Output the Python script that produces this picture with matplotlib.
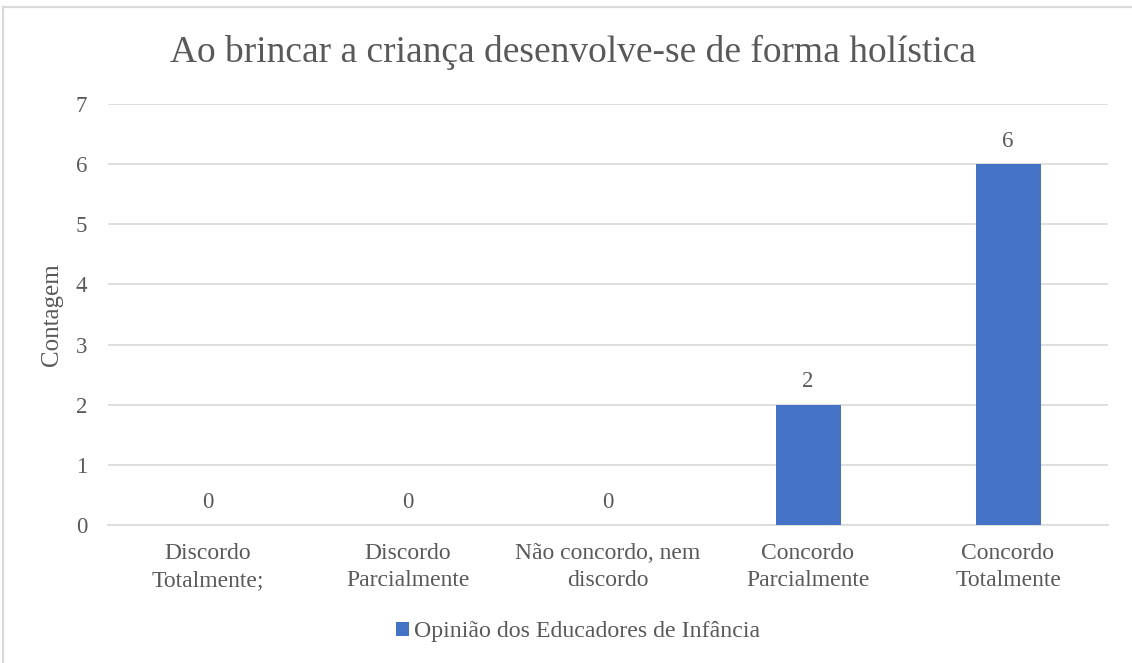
import matplotlib
matplotlib.use("Agg")
import matplotlib.pyplot as plt
from matplotlib.lines import Line2D

categories = ["Discordo\nTotalmente;", "Discordo\nParcialmente", "Não concordo, nem\ndiscordo",
              "Concordo\nParcialmente", "Concordo\nTotalmente"]
values = [0, 0, 0, 2, 6]
series_name = "Opinião dos Educadores de Infância"
title = "Ao brincar a criança desenvolve-se de forma holística"
ylabel = "Contagem"
yticks = [0, 1, 2, 3, 4, 5, 6, 7]

plt.rcParams['font.family'] = ['Liberation Serif', 'DejaVu Serif']
txt = '#595959'
blue = '#4472C4'

fig = plt.figure(figsize=(11.32, 6.63), dpi=100)
ax = fig.add_axes([108/1132, 1-525/663, 1000/1132, 421/663])

x = list(range(len(categories)))
bars = ax.bar(x, values, width=0.325, color=blue, label=series_name, zorder=3)
for xi, v in zip(x, values):
    ax.annotate(str(v), (xi, v), xytext=(0, 9), textcoords='offset points',
                ha='center', va='bottom', fontsize=16.5, color=txt)

ax.set_xlim(-0.5, len(categories) - 0.5)
ax.set_ylim(0, 7)
ax.set_yticks(yticks)
ax.set_xticks(x)
ax.set_xticklabels(categories, fontsize=17, color=txt, linespacing=1.4)
ax.tick_params(axis='y', labelsize=16.5, labelcolor=txt, length=0, pad=15)
ax.tick_params(axis='x', length=0, pad=13)
ax.grid(axis='y', color='#D9D9D9', linewidth=1.2, zorder=0)
ax.set_axisbelow(True)
for s in ['top', 'right', 'left']:
    ax.spines[s].set_visible(False)
ax.spines['bottom'].set_color('#D9D9D9')
ax.spines['bottom'].set_linewidth(1.2)

ax.set_ylabel(ylabel, fontsize=18, color=txt)
ax.yaxis.label.set_va('center')
ax.yaxis.set_label_coords((52 - 108) / 1000, 0.5)
fig.text(573/1132, 1-52/663, title, ha='center', va='center', fontsize=27, color=txt)

leg = fig.legend(handles=[bars], labels=[series_name], loc='center',
                 bbox_to_anchor=(578/1132, 1-632/663), frameon=False,
                 fontsize=17.2, handlelength=0.55, handleheight=0.55, handletextpad=0.2,
                 labelcolor=txt)

# chart-area border (only top and left edges fall inside the image)
fig.lines.append(Line2D([3/1132, 3/1132], [0, 1-7/663], transform=fig.transFigure,
                        color='#D9D9D9', linewidth=1.6))
fig.lines.append(Line2D([3/1132, 1], [1-7/663, 1-7/663], transform=fig.transFigure,
                        color='#D9D9D9', linewidth=1.6))

fig.savefig("out.png", dpi=100, facecolor='white')
